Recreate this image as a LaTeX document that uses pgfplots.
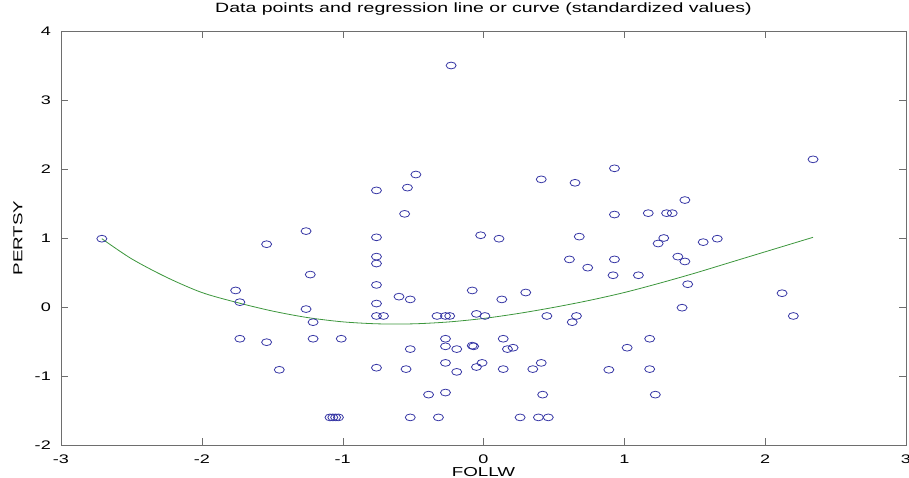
\documentclass[border=0pt]{standalone}
\usepackage{fontspec}
\setmainfont[FakeStretch=1.45]{Liberation Sans}
\usepackage{pgfplots}
\pgfplotsset{compat=1.18}

\definecolor{ptblue}{RGB}{55,55,165}
\definecolor{fitgreen}{RGB}{60,150,60}
\definecolor{axgray}{RGB}{110,110,110}

% standardized values
\pgfplotstableread{
x y
-2.71 0.99
-1.54 0.91
-1.26 1.10
-0.23 3.50
-0.48 1.92
-0.76 1.69
-0.54 1.73
-0.56 1.35
-0.76 1.01
-0.02 1.04
0.11 0.99
0.41 1.85
0.65 1.80
0.93 2.01
0.93 1.34
0.68 1.02
2.34 2.14
1.43 1.55
1.17 1.36
1.30 1.36
1.34 1.36
1.28 1.00
1.24 0.92
1.56 0.94
1.66 0.99
-1.23 0.47
-1.76 0.24
-1.73 0.07
-1.26 -0.03
-1.21 -0.22
-1.73 -0.46
-1.54 -0.51
-1.21 -0.46
-1.01 -0.46
-1.45 -0.91
-1.09 -1.60
-1.07 -1.60
-1.05 -1.60
-1.03 -1.60
-0.76 0.73
-0.76 0.63
-0.76 0.32
-0.76 0.05
-0.76 -0.13
-0.71 -0.13
-0.76 -0.88
-0.60 0.15
-0.52 0.11
-0.52 -0.61
-0.55 -0.90
-0.39 -1.27
-0.52 -1.60
-0.32 -1.60
-0.33 -0.13
-0.27 -0.13
-0.24 -0.13
-0.27 -0.46
-0.27 -0.57
-0.19 -0.61
-0.27 -0.81
-0.19 -0.94
-0.27 -1.24
-0.08 0.24
-0.05 -0.10
0.01 -0.13
-0.08 -0.56
-0.07 -0.57
-0.01 -0.81
-0.05 -0.87
0.13 0.11
0.14 -0.46
0.17 -0.61
0.21 -0.59
0.14 -0.90
0.30 0.21
0.35 -0.90
0.41 -0.81
0.42 -1.27
0.26 -1.60
0.39 -1.60
0.46 -1.60
0.45 -0.13
0.66 -0.13
0.63 -0.22
0.61 0.69
0.74 0.57
0.93 0.69
0.92 0.46
1.10 0.46
1.02 -0.59
0.89 -0.91
1.38 0.73
1.43 0.66
1.45 0.33
1.41 -0.01
2.12 0.20
2.20 -0.13
1.18 -0.46
1.18 -0.90
1.22 -1.27
}\points

% regression curve
\pgfplotstableread{
x y
-2.71 0.99
-2.50 0.70
-2.25 0.43
-2.00 0.21
-1.75 0.065
-1.50 -0.058
-1.25 -0.153
-1.00 -0.215
-0.75 -0.244
-0.50 -0.244
-0.25 -0.217
0.00 -0.166
0.25 -0.093
0.50 -0.005
0.75 0.095
1.00 0.210
1.25 0.345
1.50 0.490
1.75 0.645
2.00 0.800
2.34 1.01
}\fit

\begin{document}
\begin{tikzpicture}
\useasboundingbox (-61bp,-33bp) rectangle (848bp,445bp);
\begin{axis}[
  width=845bp, height=414bp, scale only axis,
  xmin=-3, xmax=3, ymin=-2, ymax=4,
  xtick={-3,-2,-1,0,1,2,3}, ytick={-2,-1,0,1,2,3,4},
  tick align=inside, major tick length=7bp,
  axis line style={axgray}, tick style={axgray},
  /pgf/number format/assume math mode=true,
  ticklabel style={font=\fontsize{12.5}{14}\selectfont},
  xticklabel style={anchor=base, yshift=-18bp},
  yticklabel style={anchor=east, inner sep=0pt, xshift=-10bp},
  title={Data points and regression line or curve (standardized values)},
  title style={font=\fontsize{13.5}{16}\selectfont, at={(axis description cs:0.5,1.0314)}, anchor=base},
  xlabel={FOLLW}, ylabel={PERTSY},
  xlabel style={font=\fontsize{13}{15}\selectfont, at={(axis description cs:0.5,-0.075)}, anchor=base},
  ylabel style={font=\fontsize{13}{15}\selectfont, at={(axis description cs:-0.051,0.5)}, anchor=center},
]
\addplot[only marks, mark=o, mark size=5bp, ptblue,
  mark options={yscale=0.68, line width=0.8bp}] table {\points};
\addplot[fitgreen, line width=0.8bp, smooth] table {\fit};
\end{axis}
\end{tikzpicture}
\end{document}
